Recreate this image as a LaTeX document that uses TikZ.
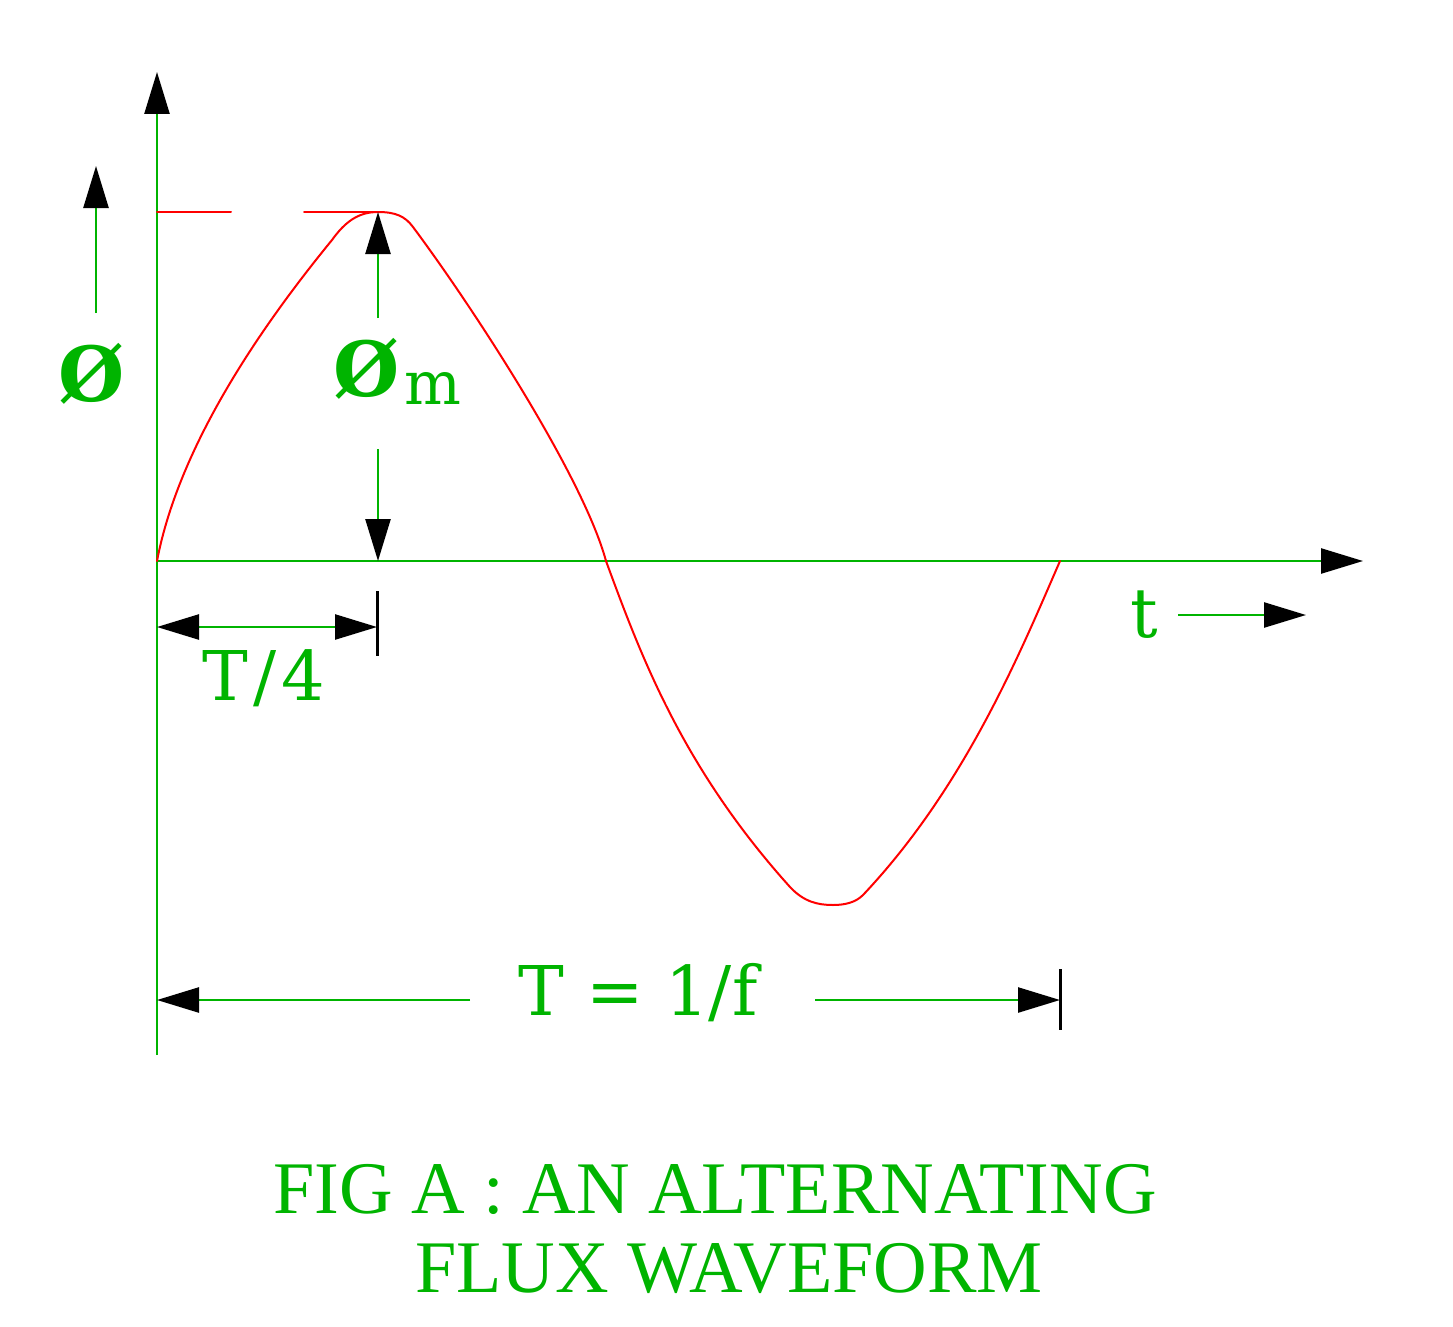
\documentclass[tikz,border=0pt]{standalone}
\usepackage{fontspec}
\usetikzlibrary{arrows.meta}
\newfontfamily\lblfont{DejaVu Serif}
\newfontfamily\capfont{Liberation Serif}
\definecolor{fluxgreen}{RGB}{0,180,0}
\definecolor{fluxred}{RGB}{255,0,0}
\tikzset{
  gline/.style={draw=fluxgreen, line width=2.5pt},
  rline/.style={draw=fluxred, line width=2pt, line cap=round, line join=round},
  tickline/.style={draw=black, line width=3pt},
  tip/.tip={Triangle[length=42pt,width=25pt,black]},
  lbl/.style={text=fluxgreen, inner sep=0pt, anchor=base},
  lblsize/.style={font=\lblfont\fontsize{68.6pt}{70pt}\selectfont},
  phisize/.style={font=\lblfont\bfseries\fontsize{76pt}{78pt}\selectfont},
  capsize/.style={font=\capfont\fontsize{74.2pt}{76pt}\selectfont},
}
\begin{document}
\begin{tikzpicture}[x=1pt,y=-1pt]
\useasboundingbox (0,0) rectangle (1453,1327);
% axes
\coordinate (O) at (157,561);
\coordinate (ytop) at (157,72);
\coordinate (ybot) at (157,1055);
\coordinate (xend) at (1363,561);
\draw[gline,-tip] (ybot) -- (ytop);
\draw[gline,-tip] (O) -- (xend);
% phi arrow
\coordinate (phiA) at (96,313);
\coordinate (phiB) at (96,166);
\draw[gline,-tip] (phiA) -- (phiB);
\node[lbl,phisize] (phi) at (92,401) {Ø};
% peak dashed line
\coordinate (pk0) at (157,212);
\coordinate (pk1) at (231,212);
\coordinate (pk2) at (304,212);
\coordinate (pk) at (378,212);
\draw[rline] (pk0) -- (pk1);
\draw[rline] (pk2) -- (pk);
% curve
\draw[rline] (O) .. controls (180,440) and (269,317) .. (332,240)
  .. controls (345,222) and (358,212) .. (pk)
  .. controls (395,212) and (405,216) .. (413,227)
  .. controls (472,306) and (583,476) .. (606,561)
  .. controls (641,656) and (682,767) .. (790,887)
  .. controls (804,902) and (818,905) .. (833,905)
  .. controls (846,905) and (856,902) .. (863,895)
  .. controls (965,787) and (1020,653) .. (1060,561);
% phi_m dimension
\coordinate (pmA) at (378,318);
\coordinate (pmB) at (378,449);
\coordinate (pmO) at (378,561);
\draw[gline,-tip] (pmA) -- (pk);
\draw[gline,-tip] (pmB) -- (pmO);
\node[lbl,phisize] (phim) at (367,396) {Ø};
\node[lbl,anchor=base west,font=\lblfont\fontsize{60pt}{62pt}\selectfont] (msub) at (404,404) {m};
% T/4 dimension
\coordinate (qA) at (157,627);
\coordinate (qB) at (377,627);
\coordinate (qt1) at (377,591);
\coordinate (qt2) at (377,656);
\draw[gline,tip-tip] (qA) -- (qB);
\draw[tickline] (qt1) -- (qt2);
\node[lbl,lblsize] (quarter) at (264,700) {T\kern5pt/\kern5pt4};
% t label
\node[lbl,lblsize] (tlbl) at (1144,637) {t};
\coordinate (tA) at (1178,615);
\coordinate (tB) at (1306,615);
\draw[gline,-tip] (tA) -- (tB);
% T = 1/f dimension
\coordinate (fA) at (470,1000);
\coordinate (fL) at (157,1000);
\coordinate (fB) at (815,1000);
\coordinate (fR) at (1060,1000);
\coordinate (ft1) at (1060,969);
\coordinate (ft2) at (1060,1030);
\draw[gline,-tip] (fA) -- (fL);
\draw[gline,-tip] (fB) -- (fR);
\draw[tickline] (ft1) -- (ft2);
\node[lbl,lblsize] (period) at (638,1015) {T = 1/f};
% caption
\node[lbl,capsize] (cap1) at (715,1213) {FIG A : AN ALTERNATING};
\node[lbl,capsize] (cap2) at (729,1292) {FLUX WAVEFORM};
\end{tikzpicture}
\end{document}
